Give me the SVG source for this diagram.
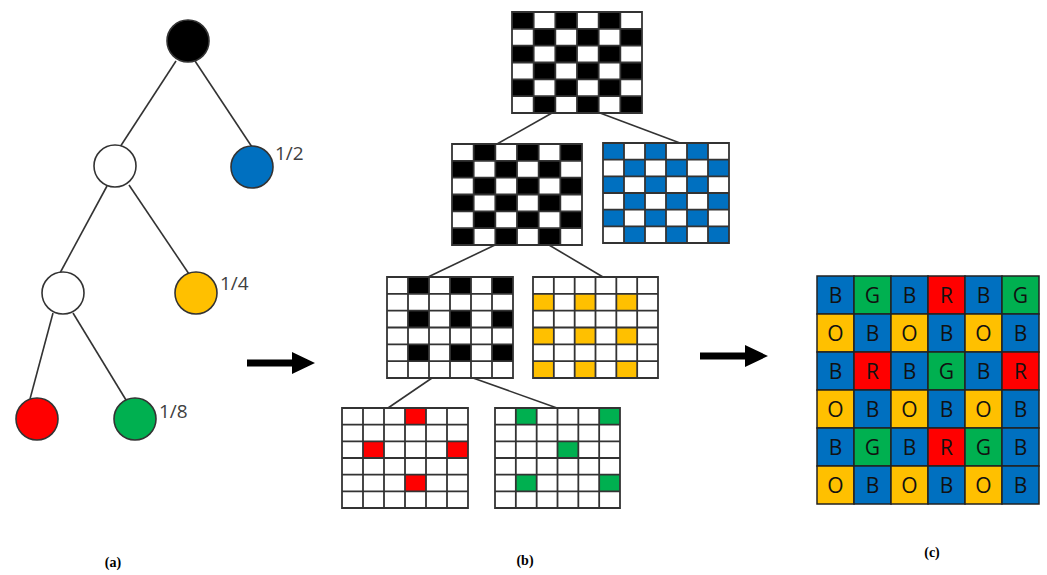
<svg xmlns="http://www.w3.org/2000/svg" width="1047" height="575" viewBox="0 0 1047 575">
<style>
.edge{stroke:#333;stroke-width:1.6;fill:none}
.node{stroke:#333;stroke-width:1.6}
.frac{font-family:"Open Sans","Liberation Sans",sans-serif;font-size:19px;fill:#404040}
.gl{stroke:#333;stroke-width:1.8;fill:none}
.cap{font-family:"Liberation Serif",serif;font-weight:bold;font-size:14px;fill:#000;text-anchor:middle}
.let{font-family:"Open Sans","Liberation Sans",sans-serif;font-size:21px;fill:#111;text-anchor:middle}
.arrow{fill:#000}
</style>
<defs>
<pattern id="p1" patternUnits="userSpaceOnUse" x="512" y="12" width="43.333" height="33.667"><rect width="21.667" height="16.833" fill="#000"/><rect x="21.667" y="16.833" width="21.667" height="16.833" fill="#000"/></pattern>
<pattern id="p2" patternUnits="userSpaceOnUse" x="452" y="144" width="43.333" height="33.667"><rect x="21.667" width="21.667" height="16.833" fill="#000"/><rect y="16.833" width="21.667" height="16.833" fill="#000"/></pattern>
<pattern id="p3" patternUnits="userSpaceOnUse" x="603" y="143" width="42" height="33.333"><rect width="21" height="16.667" fill="#0070C0"/><rect x="21" y="16.667" width="21" height="16.667" fill="#0070C0"/></pattern>
<pattern id="p4" patternUnits="userSpaceOnUse" x="387" y="277" width="42" height="33.667"><rect x="21" width="21" height="16.833" fill="#000"/></pattern>
<pattern id="p5" patternUnits="userSpaceOnUse" x="533" y="277" width="41.667" height="33.667"><rect y="16.833" width="20.833" height="16.833" fill="#FFC000"/></pattern>
</defs>
<rect width="1047" height="575" fill="#fff"/>

<g id="tree-edges">
<line class="edge" x1="176" y1="61" x2="120" y2="147"/>
<line class="edge" x1="195" y1="61" x2="252" y2="147"/>
<line class="edge" x1="107" y1="186" x2="60" y2="273"/>
<line class="edge" x1="129" y1="185" x2="189" y2="274"/>
<line class="edge" x1="53" y1="313" x2="30" y2="399"/>
<line class="edge" x1="73" y1="313" x2="126" y2="400"/>
</g>
<g id="tree-root"><circle class="node" cx="188" cy="41" r="21" fill="#000"/></g>
<g id="tree-n1"><circle class="node" cx="115" cy="166" r="21" fill="#fff"/></g>
<g id="tree-blue"><circle class="node" cx="252" cy="167" r="21" fill="#0070C0"/><text class="frac" x="275" y="160">1/2</text></g>
<g id="tree-n2"><circle class="node" cx="63" cy="293" r="21" fill="#fff"/></g>
<g id="tree-yellow"><circle class="node" cx="196" cy="293" r="21" fill="#FFC000"/><text class="frac" x="220" y="290">1/4</text></g>
<g id="tree-red"><circle class="node" cx="37" cy="419" r="21" fill="#FF0000"/></g>
<g id="tree-green"><circle class="node" cx="135" cy="419" r="21" fill="#00B050"/><text class="frac" x="159" y="418">1/8</text></g>

<g id="arrows">
<path class="arrow" d="M247 359.5H292V352L315 363L292 374V366.5H247Z"/>
<path class="arrow" d="M700 352.5H745V345L768 356L745 367V359.5H700Z"/>
</g>

<g id="grid-edges">
<line class="edge" x1="552" y1="113" x2="497" y2="144"/>
<line class="edge" x1="600" y1="113" x2="680" y2="143"/>
<line class="edge" x1="495" y1="245" x2="428" y2="277"/>
<line class="edge" x1="549" y1="245" x2="603" y2="277"/>
<line class="edge" x1="432" y1="378" x2="388" y2="408"/>
<line class="edge" x1="473" y1="378" x2="557" y2="408"/>
</g>

<g id="grid1">
<rect x="512" y="12" width="130" height="101" fill="url(#p1)"/>
<path class="gl" d="M512 12h130v101h-130z M533.67 12v101 M555.33 12v101 M577 12v101 M598.67 12v101 M620.33 12v101 M512 28.83h130 M512 45.67h130 M512 62.5h130 M512 79.33h130 M512 96.17h130"/>
</g>
<g id="grid2">
<rect x="452" y="144" width="130" height="101" fill="url(#p2)"/>
<path class="gl" d="M452 144h130v101h-130z M473.67 144v101 M495.33 144v101 M517 144v101 M538.67 144v101 M560.33 144v101 M452 160.83h130 M452 177.67h130 M452 194.5h130 M452 211.33h130 M452 228.17h130"/>
</g>
<g id="grid3">
<rect x="603" y="143" width="126" height="100" fill="url(#p3)"/>
<path class="gl" d="M603 143h126v100h-126z M624 143v100 M645 143v100 M666 143v100 M687 143v100 M708 143v100 M603 159.67h126 M603 176.33h126 M603 193h126 M603 209.67h126 M603 226.33h126"/>
</g>
<g id="grid4">
<rect x="387" y="277" width="126" height="101" fill="url(#p4)"/>
<path class="gl" d="M387 277h126v101h-126z M408 277v101 M429 277v101 M450 277v101 M471 277v101 M492 277v101 M387 293.83h126 M387 310.67h126 M387 327.5h126 M387 344.33h126 M387 361.17h126"/>
</g>
<g id="grid5">
<rect x="533" y="277" width="125" height="101" fill="url(#p5)"/>
<path class="gl" d="M533 277h125v101h-125z M553.83 277v101 M574.67 277v101 M595.5 277v101 M616.33 277v101 M637.17 277v101 M533 293.83h125 M533 310.67h125 M533 327.5h125 M533 344.33h125 M533 361.17h125"/>
</g>
<g id="grid6" fill="#FF0000">
<rect x="405" y="408" width="21" height="16.67"/>
<rect x="363" y="441.33" width="21" height="16.67"/>
<rect x="447" y="441.33" width="21" height="16.67"/>
<rect x="405" y="474.67" width="21" height="16.67"/>
<path class="gl" d="M342 408h126v100h-126z M363 408v100 M384 408v100 M405 408v100 M426 408v100 M447 408v100 M342 424.67h126 M342 441.33h126 M342 458h126 M342 474.67h126 M342 491.33h126"/>
</g>
<g id="grid7" fill="#00B050">
<rect x="515.83" y="408" width="20.83" height="16.67"/>
<rect x="599.17" y="408" width="20.83" height="16.67"/>
<rect x="557.5" y="441.33" width="20.83" height="16.67"/>
<rect x="515.83" y="474.67" width="20.83" height="16.67"/>
<rect x="599.17" y="474.67" width="20.83" height="16.67"/>
<path class="gl" d="M495 408h125v100h-125z M515.83 408v100 M536.67 408v100 M557.5 408v100 M578.33 408v100 M599.17 408v100 M495 424.67h125 M495 441.33h125 M495 458h125 M495 474.67h125 M495 491.33h125"/>
</g>

<g id="grid-c">
<g stroke="#222" stroke-width="1.5">
<rect x="817" y="276" width="37" height="38" fill="#0070C0"/><rect x="854" y="276" width="37" height="38" fill="#00B050"/><rect x="891" y="276" width="37" height="38" fill="#0070C0"/><rect x="928" y="276" width="37" height="38" fill="#FF0000"/><rect x="965" y="276" width="37" height="38" fill="#0070C0"/><rect x="1002" y="276" width="37" height="38" fill="#00B050"/>
<rect x="817" y="314" width="37" height="38" fill="#FFC000"/><rect x="854" y="314" width="37" height="38" fill="#0070C0"/><rect x="891" y="314" width="37" height="38" fill="#FFC000"/><rect x="928" y="314" width="37" height="38" fill="#0070C0"/><rect x="965" y="314" width="37" height="38" fill="#FFC000"/><rect x="1002" y="314" width="37" height="38" fill="#0070C0"/>
<rect x="817" y="352" width="37" height="38" fill="#0070C0"/><rect x="854" y="352" width="37" height="38" fill="#FF0000"/><rect x="891" y="352" width="37" height="38" fill="#0070C0"/><rect x="928" y="352" width="37" height="38" fill="#00B050"/><rect x="965" y="352" width="37" height="38" fill="#0070C0"/><rect x="1002" y="352" width="37" height="38" fill="#FF0000"/>
<rect x="817" y="390" width="37" height="38" fill="#FFC000"/><rect x="854" y="390" width="37" height="38" fill="#0070C0"/><rect x="891" y="390" width="37" height="38" fill="#FFC000"/><rect x="928" y="390" width="37" height="38" fill="#0070C0"/><rect x="965" y="390" width="37" height="38" fill="#FFC000"/><rect x="1002" y="390" width="37" height="38" fill="#0070C0"/>
<rect x="817" y="428" width="37" height="38" fill="#0070C0"/><rect x="854" y="428" width="37" height="38" fill="#00B050"/><rect x="891" y="428" width="37" height="38" fill="#0070C0"/><rect x="928" y="428" width="37" height="38" fill="#FF0000"/><rect x="965" y="428" width="37" height="38" fill="#00B050"/><rect x="1002" y="428" width="37" height="38" fill="#0070C0"/>
<rect x="817" y="466" width="37" height="38" fill="#FFC000"/><rect x="854" y="466" width="37" height="38" fill="#0070C0"/><rect x="891" y="466" width="37" height="38" fill="#FFC000"/><rect x="928" y="466" width="37" height="38" fill="#0070C0"/><rect x="965" y="466" width="37" height="38" fill="#FFC000"/><rect x="1002" y="466" width="37" height="38" fill="#0070C0"/>
</g>
<g class="let">
<text x="835.5" y="302.5">B</text><text x="872.5" y="302.5">G</text><text x="909.5" y="302.5">B</text><text x="946.5" y="302.5">R</text><text x="983.5" y="302.5">B</text><text x="1020.5" y="302.5">G</text>
<text x="835.5" y="340.5">O</text><text x="872.5" y="340.5">B</text><text x="909.5" y="340.5">O</text><text x="946.5" y="340.5">B</text><text x="983.5" y="340.5">O</text><text x="1020.5" y="340.5">B</text>
<text x="835.5" y="378.5">B</text><text x="872.5" y="378.5">R</text><text x="909.5" y="378.5">B</text><text x="946.5" y="378.5">G</text><text x="983.5" y="378.5">B</text><text x="1020.5" y="378.5">R</text>
<text x="835.5" y="416.5">O</text><text x="872.5" y="416.5">B</text><text x="909.5" y="416.5">O</text><text x="946.5" y="416.5">B</text><text x="983.5" y="416.5">O</text><text x="1020.5" y="416.5">B</text>
<text x="835.5" y="454.5">B</text><text x="872.5" y="454.5">G</text><text x="909.5" y="454.5">B</text><text x="946.5" y="454.5">R</text><text x="983.5" y="454.5">G</text><text x="1020.5" y="454.5">B</text>
<text x="835.5" y="492.5">O</text><text x="872.5" y="492.5">B</text><text x="909.5" y="492.5">O</text><text x="946.5" y="492.5">B</text><text x="983.5" y="492.5">O</text><text x="1020.5" y="492.5">B</text>
</g>
</g>

<g id="captions">
<text class="cap" x="113" y="567">(a)</text>
<text class="cap" x="525" y="565">(b)</text>
<text class="cap" x="932" y="557">(c)</text>
</g>
</svg>
